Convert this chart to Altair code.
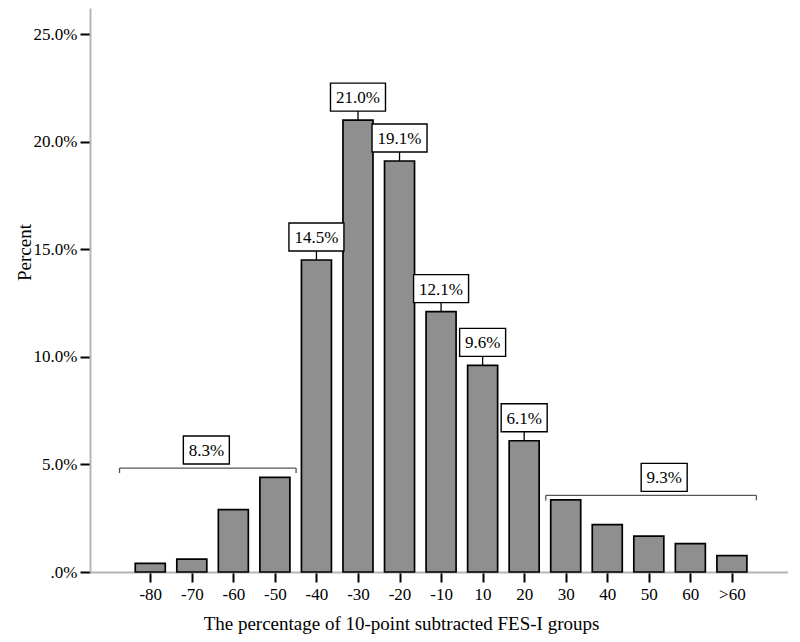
import json
import altair as alt
import pandas as pd

# ---- data ----
groups = ["-80", "-70", "-60", "-50", "-40", "-30", "-20", "-10", "10", "20",
          "30", "40", "50", "60", ">60"]
percents = [0.4, 0.6, 2.9, 4.4, 14.5, 21.0, 19.1, 12.1, 9.6, 6.1,
            3.35, 2.2, 1.67, 1.32, 0.76]
bar_labels = ["", "", "", "", "14.5%", "21.0%", "19.1%", "12.1%", "9.6%", "6.1%",
              "", "", "", "", ""]

bracket_labels = ["8.3%", "9.3%"]
bracket_from = [-0.74, 9.52]
bracket_to = [3.51, 14.59]
bracket_level = [4.83, 3.56]
bracket_label_at = [1.35, 12.37]

y_ticks = [0, 5, 10, 15, 20, 25]

FONT = "Liberation Serif, Times New Roman, serif"

bars_df = pd.DataFrame({"idx": list(range(len(groups))), "group": groups,
                        "pct": percents, "label": bar_labels})
lab_df = bars_df[bars_df["label"] != ""].copy()

br_df = pd.DataFrame({"from": bracket_from, "to": bracket_to, "pct": bracket_level,
                      "idx": bracket_label_at, "label": bracket_labels})
ends_df = pd.DataFrame({"idx": bracket_from + bracket_to, "pct": bracket_level + bracket_level})

xscale = alt.Scale(domain=[-1.33, 15.23], nice=False, zero=False)
yscale = alt.Scale(domain=[0, 26.21], nice=False, zero=True)

label_expr = json.dumps(groups) + "[datum.value]"

x_axis = alt.Axis(values=list(range(len(groups))), labelExpr=label_expr,
                  title="The percentage of 10-point subtracted FES-I groups",
                  titleX=311, titleY=51, titleBaseline="middle", titleAlign="center",
                  labelPadding=4, grid=False, labelFont=FONT, titleFont=FONT)
y_axis = alt.Axis(values=y_ticks,
                  labelExpr="datum.value == 0 ? '.0%' : format(datum.value, '.1f') + '%'",
                  title="Percent", titleX=-66, titleY=244, titleAngle=270,
                  titleAlign="center", titleBaseline="middle",
                  labelPadding=3, grid=False, labelFont=FONT, titleFont=FONT)


def X(field):
    return alt.X(field, scale=xscale, axis=x_axis, title=x_axis.title)


def Y(field):
    return alt.Y(field, scale=yscale, axis=y_axis, title=y_axis.title)


bars = alt.Chart(bars_df).mark_bar(
    width=30, color="#8f8f8f", stroke="black", strokeWidth=1.7
).encode(x=X("idx:Q"), y=Y("pct:Q"))

connectors = alt.Chart(lab_df).mark_rule(
    color="black", strokeWidth=1.3, y2Offset=-9
).encode(x=X("idx:Q"), y=Y("pct:Q"), y2="pct:Q")


def box_shape(w, h):
    r = h / w
    return f"M-1,-{r:.4f} L1,-{r:.4f} L1,{r:.4f} L-1,{r:.4f} Z"


def boxes(df, yoff):
    layers = []
    for n, w in [(5, 55), (4, 46)]:
        layers.append(
            alt.Chart(df).transform_filter(f"length(datum.label) == {n}").mark_point(
                shape=box_shape(w, 28), size=w * w, filled=True, fill="white",
                stroke="black", strokeWidth=1.4, opacity=1, yOffset=yoff
            ).encode(x=X("idx:Q"), y=Y("pct:Q"))
        )
    return layers


bar_boxes = boxes(lab_df, -23)

bar_text = alt.Chart(lab_df).mark_text(
    font=FONT, fontSize=17, color="black", baseline="middle", yOffset=-22
).encode(x=X("idx:Q"), y=Y("pct:Q"), text="label:N")

br_line = alt.Chart(br_df).mark_rule(color="#555555", strokeWidth=1.3).encode(
    x=X("from:Q"), x2="to:Q", y=Y("pct:Q")
)

br_ends = alt.Chart(ends_df).mark_rule(color="#555555", strokeWidth=1.3, y2Offset=5).encode(
    x=X("idx:Q"), y=Y("pct:Q"), y2="pct:Q"
)

br_boxes = boxes(br_df, -18)

br_text = alt.Chart(br_df).mark_text(
    font=FONT, fontSize=17, color="black", baseline="middle", yOffset=-17
).encode(x=X("idx:Q"), y=Y("pct:Q"), text="label:N")

chart = alt.layer(
    bars, connectors, *bar_boxes, bar_text, br_line, br_ends, *br_boxes, br_text
).properties(
    width=698, height=564,
    padding={"left": 82, "top": 0, "right": 0, "bottom": 62},
    autosize=alt.AutoSizeParams(type="none"),
    background="white",
).configure_view(
    stroke=None
).configure_axis(
    labelFont=FONT, titleFont=FONT, labelFontSize=17, titleFontSize=19,
    labelColor="black", titleColor="black", titleFontWeight="normal",
    domainColor="#b5b5b5", domainWidth=2,
    tickColor="black", tickWidth=2, tickSize=10,
)

chart.save("out.html", embed_options={"renderer": "svg", "actions": False})
